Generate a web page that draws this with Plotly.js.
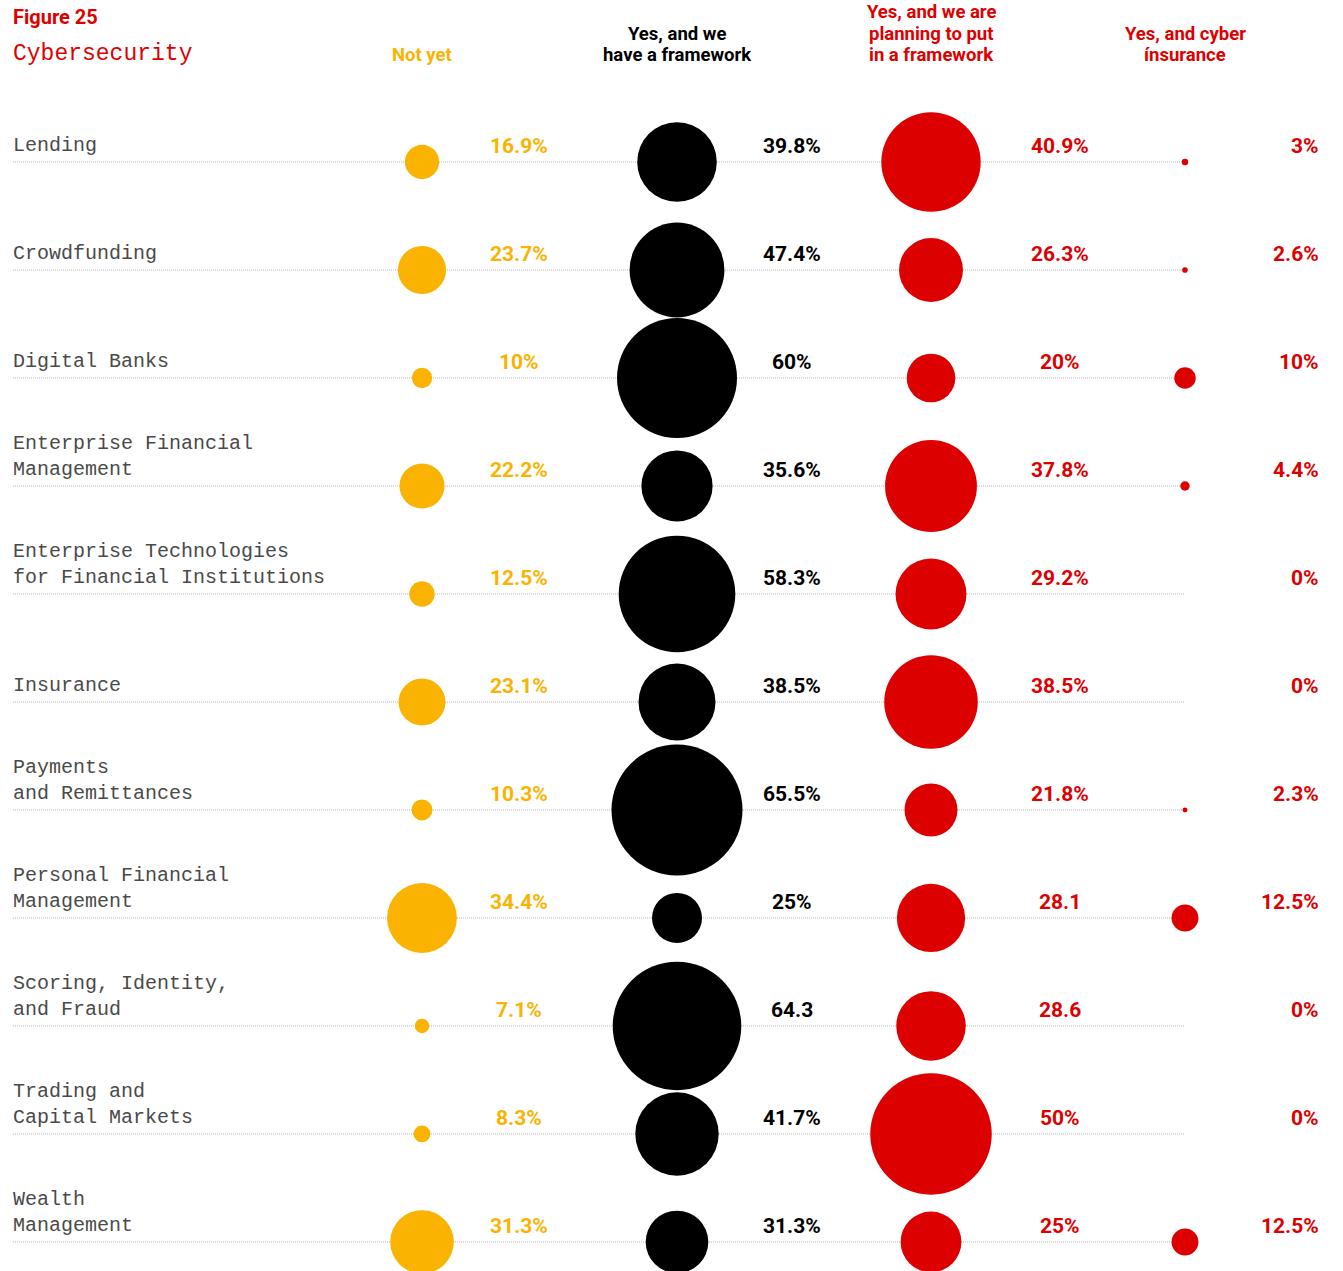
<!DOCTYPE html>
<html><head><meta charset="utf-8">
<script src="https://cdn.plot.ly/plotly-3.0.1.min.js"></script>
<style>html,body{margin:0;padding:0;background:#fff;}#chart{width:1343px;height:1271px;}</style>
</head><body><div id="chart"></div>
<script>
// ---- data ----
const categories = ["Lending","Crowdfunding","Digital Banks","Enterprise Financial<br>Management","Enterprise Technologies<br>for Financial Institutions","Insurance","Payments<br>and Remittances","Personal Financial<br>Management","Scoring, Identity,<br>and Fraud","Trading and<br>Capital Markets","Wealth<br>Management"];
const notYet     = [16.9,23.7,10,22.2,12.5,23.1,10.3,34.4,7.1,8.3,31.3];
const framework  = [39.8,47.4,60,35.6,58.3,38.5,65.5,25,64.3,41.7,31.3];
const planning   = [40.9,26.3,20,37.8,29.2,38.5,21.8,28.1,28.6,50,25];
const cyber      = [3,2.6,10,4.4,0,0,2.3,12.5,0,0,12.5];
const notYetLabels    = ["16.9%","23.7%","10%","22.2%","12.5%","23.1%","10.3%","34.4%","7.1%","8.3%","31.3%"];
const frameworkLabels = ["39.8%","47.4%","60%","35.6%","58.3%","38.5%","65.5%","25%","64.3","41.7%","31.3%"];
const planningLabels  = ["40.9%","26.3%","20%","37.8%","29.2%","38.5%","21.8%","28.1","28.6","50%","25%"];
const cyberLabels     = ["3%","2.6%","10%","4.4%","0%","0%","2.3%","12.5%","0%","0%","12.5%"];
const seriesNames = ["Not yet","Yes, and we<br>have a framework","Yes, and we are<br>planning to put<br>in a framework","Yes, and cyber<br>ínsurance"];

// ---- style / layout ----
const YEL = "#F9B300", BLK = "#000000", RED = "#DD0000";
const cols = [
  {vals: notYet,    labels: notYetLabels,    color: YEL, cx: 422,  tx: 519,  anchor: "center", scale: 2.03, xs: 0},
  {vals: framework, labels: frameworkLabels, color: BLK, cx: 677,  tx: 792,  anchor: "center", scale: 2.0,  xs: 0},
  {vals: planning,  labels: planningLabels,  color: RED, cx: 931,  tx: 1060, anchor: "center", scale: 2.43, xs: 0},
  {vals: cyber,     labels: cyberLabels,     color: RED, cx: 1185, tx: 1319, anchor: "right",  scale: 2.15, xs: 2}
];
const lineX0 = 13, lineX1 = 1185;
const H = 1271;
const valFont = "Roboto, 'DejaVu Sans', sans-serif";
const monoFont = "'Liberation Mono', 'DejaVu Sans Mono', monospace";

const traces = [];
// dotted row lines
const lx = [], ly = [];
categories.forEach(c => { lx.push(lineX0, lineX1, null); ly.push(c, c, null); });
traces.push({type:"scatter", mode:"lines", x: lx, y: ly, hoverinfo:"skip",
  line:{color:"#b5b5b5", width:1, dash:"1px,1px"}});

cols.forEach((col, k) => {
  traces.push({
    type:"scatter", mode:"markers", name: seriesNames[k],
    x: categories.map(() => col.cx), y: categories,
    cliponaxis: false,
    marker:{color: col.color, size: col.vals.map(v => v * col.scale), sizemode:"diameter", line:{width:0}, opacity:1}
  });
});

const annotations = [];
// row labels
categories.forEach(c => {
  annotations.push({x: lineX0, y: c, xref:"x", yref:"y", text: c, showarrow:false,
    xanchor:"left", yanchor:"bottom", align:"left", yshift: 3, xshift: -2,
    font:{family: monoFont, size:20, color:"#4a4a4a"}});
});
// values
cols.forEach(col => {
  categories.forEach((c, i) => {
    annotations.push({x: col.tx, y: c, xref:"x", yref:"y", text: col.labels[i], showarrow:false,
      xanchor: col.anchor, yanchor:"middle", yshift: 16, xshift: col.xs,
      font:{family: valFont, size:21, color: col.color, weight:"bold"}});
  });
});
// column headers (each line placed separately for tight leading)
const headerLineY = [55, 33.5, 12];
cols.forEach((col, k) => {
  const lines = seriesNames[k].split("<br>");
  lines.forEach((ln, j) => {
    const py = headerLineY[lines.length - 1 - j];
    annotations.push({x: col.cx, y: 1 - py / H, xref:"x", yref:"paper", text: ln, showarrow:false,
      xanchor:"center", yanchor:"middle", borderpad:0,
      font:{family: valFont, size:18.5, color: col.color, weight:"bold"}});
  });
});
// figure title
annotations.push({x: 11/1343, y: 1 - 17/H, xref:"paper", yref:"paper", text:"Figure 25", showarrow:false,
  xanchor:"left", yanchor:"middle", font:{family: valFont, size:20, color: RED, weight:"bold"}});
annotations.push({x: 11/1343, y: 1 - 54/H, xref:"paper", yref:"paper", text:"Cybersecurity", showarrow:false,
  xanchor:"left", yanchor:"middle", font:{family: monoFont, size:23, color: RED}});

const layout = {
  width: 1343, height: H,
  margin:{l:0, r:0, t:0, b:0, pad:0},
  paper_bgcolor:"#fff", plot_bgcolor:"#fff",
  showlegend:false,
  xaxis:{range:[0,1343], visible:false, fixedrange:true},
  yaxis:{type:"category", categoryorder:"array", categoryarray: categories,
         range:[10.269, -1.5], autorange:false, visible:false, fixedrange:true},
  annotations: annotations,
  hovermode:false
};
Plotly.newPlot("chart", traces, layout, {displayModeBar:false, staticPlot:true});
</script>
</body></html>
